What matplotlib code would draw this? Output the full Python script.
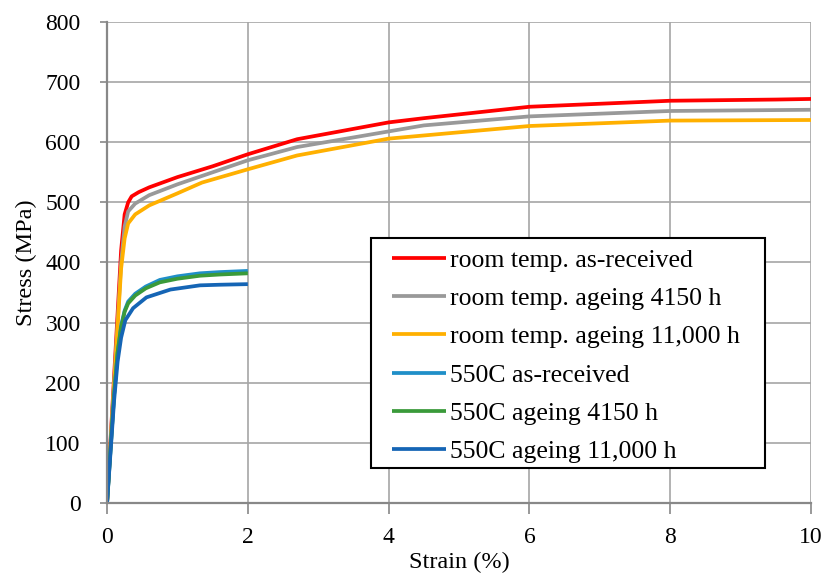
import numpy as np
import matplotlib
matplotlib.use("Agg")
import matplotlib.pyplot as plt
from matplotlib.patches import Rectangle

plt.rcParams['font.family'] = ['Liberation Serif', 'DejaVu Serif']

# stress-strain curves
rt_ar_x = [0, 0.1, 0.2, 0.25, 0.3, 0.35, 0.45, 0.6, 1.0, 1.5, 2, 2.7, 4, 4.5, 6, 8, 9.5, 10]
rt_ar_y = [0, 210, 420, 480, 500, 510, 517, 525, 542, 560, 580, 605, 633, 640, 659, 669, 671, 672]

rt_4150_x = [0, 0.1, 0.2, 0.25, 0.3, 0.4, 0.6, 1, 1.5, 2, 2.7, 4, 4.5, 6, 8, 10]
rt_4150_y = [0, 200, 400, 460, 485, 498, 512, 530, 550, 570, 592, 618, 628, 643, 652, 654]

rt_11000_x = [0, 0.1, 0.2, 0.25, 0.3, 0.4, 0.6, 1, 1.35, 2, 2.7, 4, 6, 8, 10]
rt_11000_y = [0, 195, 390, 440, 465, 480, 495, 515, 533, 555, 578, 606, 627, 636, 637]

hot_ar_x = [0, 0.05, 0.1, 0.15, 0.2, 0.25, 0.3, 0.4, 0.55, 0.75, 1, 1.32, 1.6, 2]
hot_ar_y = [0, 90, 180, 250, 295, 320, 335, 348, 360, 371, 377, 382, 384, 386]

hot_4150_x = [0, 0.05, 0.1, 0.15, 0.2, 0.25, 0.3, 0.4, 0.55, 0.75, 1, 1.32, 1.6, 2]
hot_4150_y = [0, 90, 180, 250, 292, 318, 332, 345, 357, 367, 373, 378, 380, 382]

hot_11000_x = [0, 0.05, 0.1, 0.15, 0.2, 0.26, 0.37, 0.56, 0.9, 1.32, 1.6, 2]
hot_11000_y = [0, 85, 170, 235, 275, 304, 324, 342, 355, 362, 363, 364]

series = [
    (rt_ar_x, rt_ar_y, 'room temp. as-received', '#ff0000'),
    (rt_4150_x, rt_4150_y, 'room temp. ageing 4150 h', '#999999'),
    (rt_11000_x, rt_11000_y, 'room temp. ageing 11,000 h', '#ffb000'),
    (hot_ar_x, hot_ar_y, '550C as-received', '#1f8fc8'),
    (hot_4150_x, hot_4150_y, '550C ageing 4150 h', '#3a9a3a'),
    (hot_11000_x, hot_11000_y, '550C ageing 11,000 h', '#1565b5'),
]

fig = plt.figure(figsize=(8.24, 5.74), dpi=100)
ax = fig.add_axes([0.1299, 0.1237, 0.8544, 0.838])

for x, y, lab, c in series:
    ax.plot(x, y, color=c, lw=2.7, label=lab, solid_capstyle='butt')

ax.set_xlim(0, 10)
ax.set_ylim(0, 800)
ax.set_xticks(np.arange(0, 11, 2))
ax.set_yticks(np.arange(0, 801, 100))
ax.grid(True, color='#a6a6a6', lw=1.2)
ax.set_axisbelow(True)
for s in ['top', 'right']:
    ax.spines[s].set_visible(False)
for s in ['left', 'bottom']:
    ax.spines[s].set_color('#888888')
    ax.spines[s].set_linewidth(1.6)
ax.tick_params(axis='both', colors='#888888', labelcolor='black', labelsize=17, width=1.2)
ax.tick_params(axis='x', length=8, pad=9)
ax.tick_params(axis='y', length=5, pad=14)

ax.set_xlabel('Strain (%)', fontsize=17.5, labelpad=3)
ax.set_ylabel('Stress (MPa)', fontsize=17.5, labelpad=6)

# legend box drawn on its own, legend entries placed inside it
box = Rectangle((0.375, 0.0728), 0.5597, 0.478, transform=ax.transAxes,
                facecolor='white', edgecolor='black', lw=1.5, zorder=4)
ax.add_patch(box)
leg = ax.legend(loc='upper left', bbox_to_anchor=(0.405, 0.5276), frameon=False,
                fontsize=18.5, handlelength=2.1, handletextpad=0.15,
                labelspacing=0.59, borderpad=0, borderaxespad=0)
leg.set_zorder(5)

fig.savefig('out.png', dpi=100)
